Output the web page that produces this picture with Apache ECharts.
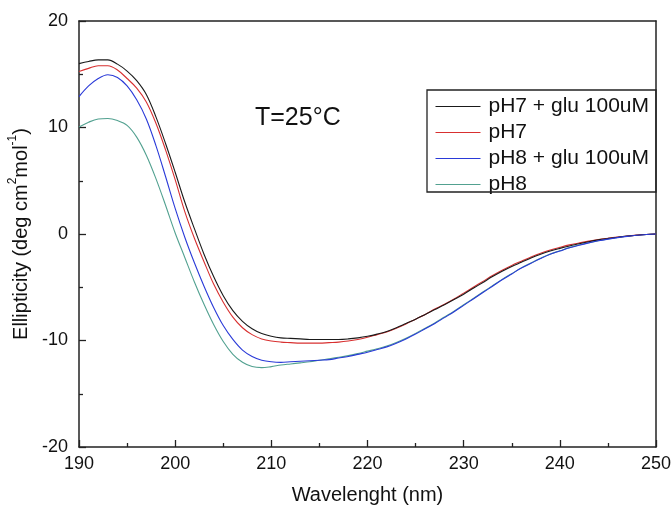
<!DOCTYPE html>
<html>
<head>
<meta charset="utf-8">
<script src="https://cdn.jsdelivr.net/npm/echarts@6/dist/echarts.min.js"></script>
<style>
html,body{margin:0;padding:0;background:#fff;}
#chart{width:672px;height:508px;}
</style>
</head>
<body>
<div id="chart"></div>
<script>
// Wavelength (nm)
var wavelengths = [190,191,192,193,194,195,196,197,198,199,200,201,202,203,204,205,206,207,208,209,210,211,212,213,214,215,216,217,218,219,220,221,222,223,224,225,226,227,228,229,230,231,232,233,234,235,236,237,238,239,240,241,242,243,244,245,246,247,248,249,250];

var seriesNames = ['pH7 + glu 100uM', 'pH7', 'pH8 + glu 100uM', 'pH8'];

var pH7glu = [16.0,16.2,16.35,16.35,15.95,15.3,14.4,13.1,11.0,8.5,5.8,3.0,0.5,-1.9,-4.0,-5.8,-7.2,-8.2,-8.9,-9.35,-9.6,-9.75,-9.8,-9.85,-9.9,-9.9,-9.9,-9.9,-9.85,-9.75,-9.6,-9.4,-9.15,-8.8,-8.4,-8.0,-7.55,-7.1,-6.65,-6.15,-5.65,-5.1,-4.55,-4.0,-3.5,-3.05,-2.65,-2.25,-1.9,-1.6,-1.35,-1.12,-0.92,-0.72,-0.55,-0.42,-0.3,-0.2,-0.12,-0.05,0];

var pH7 = [15.25,15.55,15.8,15.8,15.4,14.6,13.7,12.4,10.4,7.9,5.1,2.1,-0.4,-2.6,-4.7,-6.4,-7.8,-8.8,-9.45,-9.85,-10.05,-10.15,-10.2,-10.25,-10.25,-10.25,-10.2,-10.15,-10.05,-9.9,-9.7,-9.45,-9.2,-8.85,-8.45,-8.0,-7.55,-7.05,-6.6,-6.1,-5.55,-5.0,-4.45,-3.9,-3.4,-2.95,-2.55,-2.15,-1.8,-1.5,-1.25,-1.02,-0.84,-0.67,-0.52,-0.4,-0.29,-0.19,-0.11,-0.05,0];

var pH8glu = [12.9,13.9,14.6,14.95,14.7,13.9,12.6,10.8,8.3,5.4,2.4,-0.3,-2.7,-4.9,-6.9,-8.6,-9.9,-10.9,-11.5,-11.85,-12.0,-12.05,-12.0,-11.95,-11.9,-11.85,-11.8,-11.65,-11.5,-11.3,-11.1,-10.85,-10.6,-10.25,-9.85,-9.4,-8.9,-8.4,-7.85,-7.3,-6.7,-6.1,-5.5,-4.9,-4.3,-3.75,-3.2,-2.75,-2.3,-1.9,-1.6,-1.3,-1.05,-0.83,-0.64,-0.48,-0.34,-0.22,-0.12,-0.05,0];

var pH8 = [10.05,10.5,10.8,10.85,10.65,10.2,9.1,7.4,5.2,2.7,0.1,-2.2,-4.5,-6.6,-8.5,-10.1,-11.3,-12.05,-12.45,-12.55,-12.45,-12.3,-12.2,-12.1,-12.0,-11.85,-11.72,-11.58,-11.42,-11.22,-11.0,-10.78,-10.52,-10.18,-9.78,-9.33,-8.85,-8.35,-7.8,-7.25,-6.65,-6.05,-5.45,-4.85,-4.26,-3.72,-3.18,-2.72,-2.28,-1.88,-1.58,-1.28,-1.03,-0.82,-0.63,-0.47,-0.33,-0.21,-0.12,-0.05,0];

var xTicks = [190,200,210,220,230,240,250];
var yTicks = [-20,-10,0,10,20];

var colors = ['#1a1a1a', '#d83030', '#2a3ad8', '#52a190'];
var FONT = '"Liberation Sans", Arial, sans-serif';

function pairs(ys) {
  return wavelengths.map(function (x, i) { return [x, ys[i]]; });
}
var allData = [pH7glu, pH7, pH8glu, pH8];
var zOrder = [3, 2, 4, 1];

var chart = echarts.init(document.getElementById('chart'), null, {renderer: 'canvas'});
var option = {
  backgroundColor: '#ffffff',
  animation: false,
  grid: {left: 79, right: 16, top: 21, bottom: 61, show: false, containLabel: false, outerBoundsMode: 'none'},
  legend: {
    data: seriesNames,
    orient: 'vertical',
    left: 435,
    top: 96,
    padding: 0,
    itemGap: 5,
    itemWidth: 45,
    itemHeight: 20,
    itemStyle: {opacity: 0},
    lineStyle: {width: 1, color: 'inherit'},
    textStyle: {fontFamily: FONT, fontSize: 21, color: '#111', lineHeight: 20, padding: [0,0,0,3]}
  },
  xAxis: [{
    type: 'value',
    min: xTicks[0], max: xTicks[xTicks.length - 1], interval: 10,
    axisLine: {show: true, onZero: false, lineStyle: {color: '#222', width: 1.5}},
    axisTick: {show: true, inside: true, length: 7, lineStyle: {color: '#222', width: 1.3}},
    minorTick: {show: true, splitNumber: 2, length: 4, lineStyle: {color: '#222', width: 1.3}},
    splitLine: {show: false},
    axisLabel: {fontFamily: FONT, fontSize: 18, color: '#111', margin: 8},
    name: 'Wavelenght (nm)',
    nameLocation: 'middle',
    nameGap: 38,
    nameTextStyle: {fontFamily: FONT, fontSize: 20, color: '#111'}
  }, {
    type: 'value', position: 'top',
    min: xTicks[0], max: xTicks[xTicks.length - 1], interval: 10,
    axisLine: {show: true, onZero: false, lineStyle: {color: '#222', width: 1.5}},
    axisTick: {show: false}, axisLabel: {show: false}, splitLine: {show: false}
  }],
  yAxis: [{
    type: 'value',
    min: yTicks[0], max: yTicks[yTicks.length - 1], interval: 10,
    axisLine: {show: true, onZero: false, lineStyle: {color: '#222', width: 1.5}},
    axisTick: {show: true, inside: true, length: 7, lineStyle: {color: '#222', width: 1.3}},
    minorTick: {show: true, splitNumber: 2, length: 4, lineStyle: {color: '#222', width: 1.3}},
    splitLine: {show: false},
    axisLabel: {fontFamily: FONT, fontSize: 18, color: '#111', margin: 11},
    name: '{a|Ellipticity (deg cm}{s|2}{a|mol}{s|-1}{a|)}',
    nameLocation: 'middle',
    nameGap: 41,
    nameTextStyle: {
      fontFamily: FONT, fontSize: 20, color: '#111',
      rich: {
        a: {fontFamily: FONT, fontSize: 20, color: '#111', lineHeight: 24, verticalAlign: 'bottom'},
        s: {fontFamily: FONT, fontSize: 12, color: '#111', lineHeight: 24, verticalAlign: 'top'}
      }
    }
  }, {
    type: 'value', position: 'right',
    min: yTicks[0], max: yTicks[yTicks.length - 1], interval: 10,
    axisLine: {show: true, onZero: false, lineStyle: {color: '#222', width: 1.5}},
    axisTick: {show: false}, axisLabel: {show: false}, splitLine: {show: false}
  }],
  graphic: [{
    type: 'rect',
    shape: {x: 427, y: 90, width: 229, height: 102},
    style: {fill: 'none', stroke: '#222', lineWidth: 1.3},
    z: 10
  }, {
    type: 'text',
    x: 255, y: 118,
    style: {text: 'T=25°C', font: '25px ' + FONT, fill: '#111', verticalAlign: 'middle'},
    z: 10
  }],
  series: seriesNames.map(function (n, i) {
    return {
      name: n,
      type: 'line',
      data: pairs(allData[i]),
      showSymbol: false,
      symbol: 'none',
      smooth: 0.35,
      z: zOrder[i],
      color: colors[i],
      lineStyle: {color: colors[i], width: 1.1},
      itemStyle: {color: colors[i]}
    };
  })
};
chart.setOption(option);
</script>
</body>
</html>
